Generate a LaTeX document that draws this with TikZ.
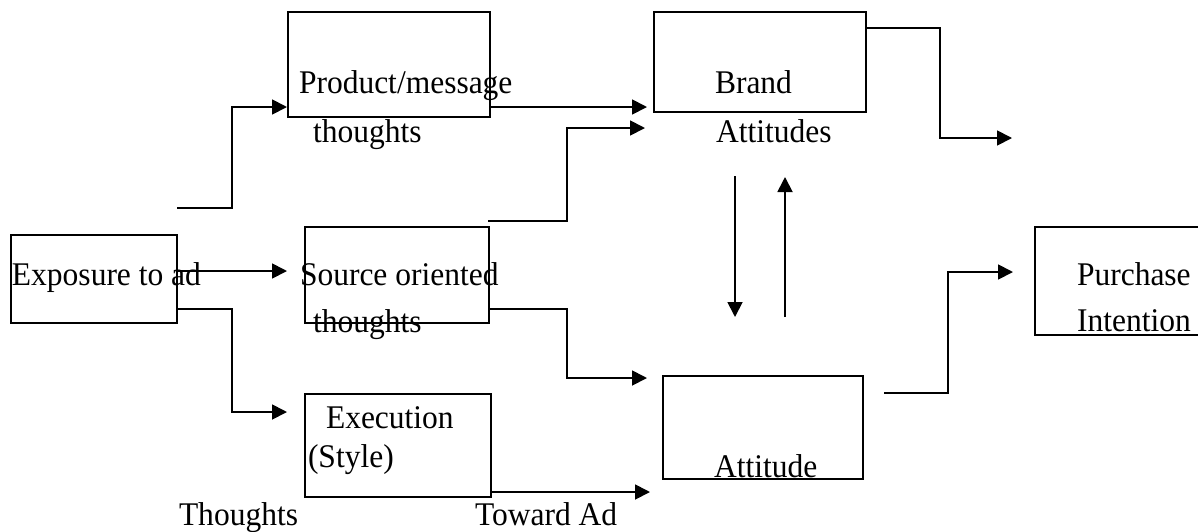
\documentclass[tikz,border=0pt]{standalone}
\usepackage{fontspec}
\setmainfont{Liberation Serif}
\usetikzlibrary{arrows.meta}
\newcommand\tallword[1]{\scalebox{1}[1.05]{#1}}
\begin{document}
\begin{tikzpicture}[x=1pt,y=-1pt,
  box/.style={draw,line width=1.8pt,inner sep=0pt,outer sep=0pt},
  txt/.style={anchor=base west,inner sep=0pt,outer sep=0pt,font=\fontsize{31.5}{36}\selectfont},
  link/.style={line width=1.8pt,-{Triangle[length=15pt,width=15pt]}}]
\useasboundingbox (0,0) rectangle (1198,531);

% boxes
\node[box,minimum width=166pt,minimum height=88pt]  (expo)  at (94,279)    {};
\node[box,minimum width=202pt,minimum height=105pt] (prod)  at (389,64.5)  {};
\node[box,minimum width=184pt,minimum height=96pt]  (src)   at (397,275)   {};
\node[box,minimum width=186pt,minimum height=103pt] (exec)  at (398,445.5) {};
\node[box,minimum width=212pt,minimum height=100pt] (brand) at (760,62)    {};
\node[box,minimum width=200pt,minimum height=103pt] (att)   at (763,427.5) {};
\node[box,minimum width=180pt,minimum height=108pt] (purch) at (1125,281)  {};

% labels
\node[txt] (l-expo)   at (12,285)  {\tallword{Exposure to ad}};
\node[txt] (l-prod1)  at (299,93)  {\tallword{Product/message}};
\node[txt] (l-prod2)  at (313,142) {\tallword{thoughts}};
\node[txt] (l-brand1) at (715,93)  {\tallword{Brand}};
\node[txt] (l-brand2) at (716,142) {\tallword{Attitudes}};
\node[txt] (l-src1)   at (300,285) {\tallword{Source oriented}};
\node[txt] (l-src2)   at (313,332) {\tallword{thoughts}};
\node[txt] (l-exec1)  at (326,428) {\tallword{Execution}};
\node[txt] (l-exec2)  at (308,467) {\tallword{(Style)}};
\node[txt] (l-exec3)  at (179,525) {\tallword{Thoughts}};
\node[txt] (l-att1)   at (475,525) {\tallword{Toward Ad}};
\node[txt] (l-att2)   at (714,477) {\tallword{Attitude}};
\node[txt] (l-pur1)   at (1077,285) {\tallword{Purchase}};
\node[txt] (l-pur2)   at (1077,331) {\tallword{Intention}};

% connector points
\coordinate (s1) at (177,208);  \coordinate (k1) at (232,107);  \coordinate (e1) at (287,107);
\coordinate (s2) at (490,107);  \coordinate (e2) at (647,107);
\coordinate (s3) at (488,221);  \coordinate (k3) at (567,128);  \coordinate (e3) at (645,128);
\coordinate (s4) at (866,28);   \coordinate (k4) at (940,138);  \coordinate (e4) at (1012,138);
\coordinate (s5) at (735,176);  \coordinate (e5) at (735,317);
\coordinate (s6) at (785,317);  \coordinate (e6) at (785,177);
\coordinate (s7) at (884,393);  \coordinate (k7) at (948,272);  \coordinate (e7) at (1013,272);
\coordinate (s8) at (177,271);  \coordinate (e8) at (287,271);
\coordinate (s9) at (177,309);  \coordinate (k9) at (232,412);  \coordinate (e9) at (287,412);
\coordinate (s10) at (489,309); \coordinate (k10) at (567,378); \coordinate (e10) at (647,378);
\coordinate (s11) at (491,492); \coordinate (e11) at (650,492);

% connectors
\draw[link] (s1) -| (k1) -- (e1);
\draw[link] (s2) -- (e2);
\draw[link] (s3) -| (k3) -- (e3);
\draw[link] (s4) -| (k4) -- (e4);
\draw[link] (s5) -- (e5);
\draw[link] (s6) -- (e6);
\draw[link] (s7) -| (k7) -- (e7);
\draw[link] (s8) -- (e8);
\draw[link] (s9) -| (k9) -- (e9);
\draw[link] (s10) -| (k10) -- (e10);
\draw[link] (s11) -- (e11);
\end{tikzpicture}
\end{document}
